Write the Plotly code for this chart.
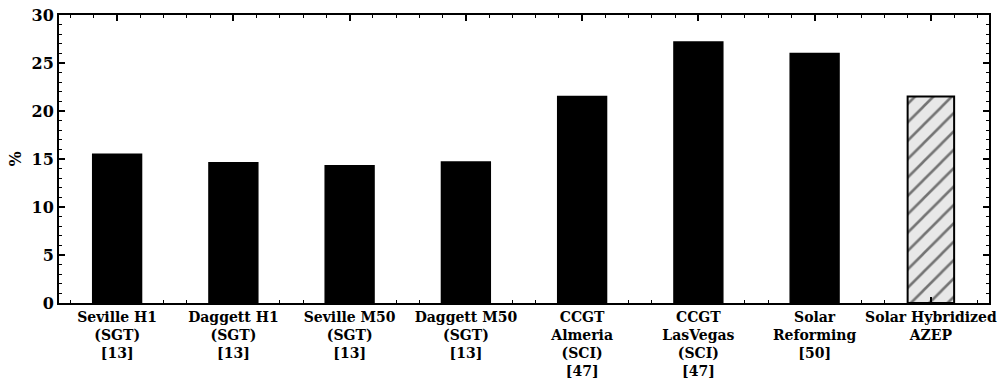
import plotly.graph_objects as go

categories = [
    "Seville H1<br>(SGT)<br>[13]",
    "Daggett H1<br>(SGT)<br>[13]",
    "Seville M50<br>(SGT)<br>[13]",
    "Daggett M50<br>(SGT)<br>[13]",
    "CCGT<br>Almeria<br>(SCI)<br>[47]",
    "CCGT<br>LasVegas<br>(SCI)<br>[47]",
    "Solar<br>Reforming<br>[50]",
    "Solar Hybridized<br>AZEP",
]
values = [15.5, 14.6, 14.3, 14.7, 21.5, 27.2, 26.0, 21.5]
hatched = [False] * 7 + [True]

positions = list(range(len(categories)))
FONT = "DejaVu Serif"

fig = go.Figure()
fig.add_trace(go.Bar(
    x=[p for p, h in zip(positions, hatched) if not h],
    y=[v for v, h in zip(values, hatched) if not h],
    width=0.42,
    marker=dict(color="black", line=dict(color="black", width=1.5)),
    showlegend=False,
))
fig.add_trace(go.Bar(
    x=[p for p, h in zip(positions, hatched) if h],
    y=[v for v, h in zip(values, hatched) if h],
    width=0.40,
    marker=dict(
        color="#e8e8e8",
        line=dict(color="black", width=2),
        pattern=dict(shape="/", fgcolor="black", bgcolor="#e8e8e8", size=13, solidity=0.2),
    ),
    showlegend=False,
))

fig.update_layout(
    width=1006, height=389,
    margin=dict(l=59, r=17, t=15, b=86),
    paper_bgcolor="white", plot_bgcolor="white",
    barmode="overlay",
    font=dict(family=FONT, color="black"),
)
fig.update_xaxes(
    range=[-0.5, 7.5], automargin=False,
    tickmode="array", tickvals=positions, ticktext=categories,
    tickfont=dict(family=FONT, size=14, color="black", weight="bold"),
    ticks="inside", ticklen=6, tickwidth=1.5, tickcolor="black",
    minor=dict(dtick=0.2, ticks="inside", ticklen=3, tickcolor="black", tickwidth=1, showgrid=False),
    showline=True, linecolor="black", linewidth=2, mirror="ticks",
    showgrid=False, zeroline=False,
)
fig.update_yaxes(
    range=[0, 30], dtick=5, automargin=False,
    tickfont=dict(family=FONT, size=16, color="black", weight="bold"),
    ticks="inside", ticklen=6, tickwidth=1.5, tickcolor="black",
    minor=dict(dtick=1, ticks="inside", ticklen=3, tickcolor="black", tickwidth=1, showgrid=False),
    showline=True, linecolor="black", linewidth=2, mirror="ticks",
    showgrid=False, zeroline=False,
    title=dict(text="%", font=dict(family=FONT, size=16, color="black", weight="bold"), standoff=6),
)

fig.write_html("out.html")
